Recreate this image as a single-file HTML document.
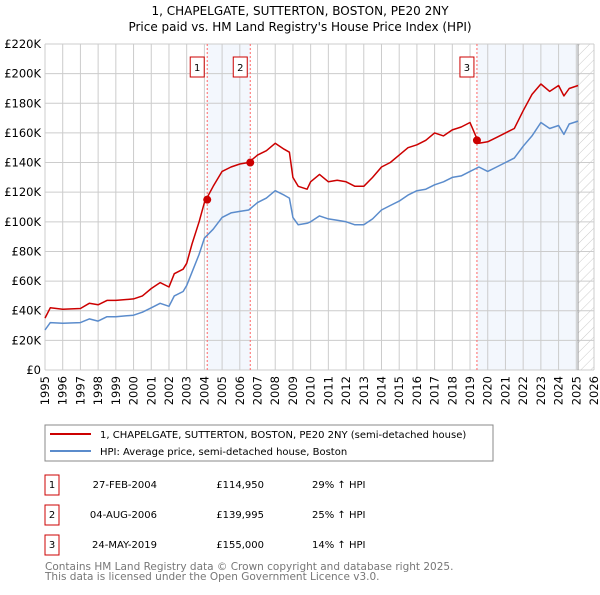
<!DOCTYPE html>
<html><head><meta charset="utf-8"><style>
body{margin:0;background:#fff;font-family:"Liberation Sans","DejaVu Sans",sans-serif;}
svg text{font-family:"DejaVu Sans","Liberation Sans",sans-serif;}
</style></head><body>
<svg id="c" width="600" height="590" viewBox="0 0 600 590" xmlns="http://www.w3.org/2000/svg">
<text x="300" y="15" text-anchor="middle" font-size="12">1, CHAPELGATE, SUTTERTON, BOSTON, PE20 2NY</text>
<text x="300" y="31" text-anchor="middle" font-size="12">Price paid vs. HM Land Registry's House Price Index (HPI)</text>
<defs><pattern id="h" width="7" height="7" patternUnits="userSpaceOnUse" patternTransform="rotate(45)"><line x1="0" y1="0" x2="0" y2="7" stroke="#ccc" stroke-width="1"/></pattern></defs>
<g id="grid"></g>
<g id="marks"></g>
<g id="legend">
<rect x="45" y="425" width="448" height="36" fill="#fff" stroke="#888"/>
<line x1="50" y1="434" x2="91" y2="434" stroke="#cc0000" stroke-width="2"/>
<text x="100" y="438" font-size="10">1, CHAPELGATE, SUTTERTON, BOSTON, PE20 2NY (semi-detached house)</text>
<line x1="50" y1="451" x2="91" y2="451" stroke="#5b8ccc" stroke-width="2"/>
<text x="100" y="455" font-size="10">HPI: Average price, semi-detached house, Boston</text>
</g>
<g id="table" font-size="10"></g>
<text x="45" y="570" font-size="10.5" fill="#777">Contains HM Land Registry data © Crown copyright and database right 2025.</text>
<text x="45" y="580" font-size="10.5" fill="#777">This data is licensed under the Open Government Licence v3.0.</text>
</svg>
<script>
const hpiYears=[1995,1995.3,1996,1997,1997.5,1998,1998.5,1999,2000,2000.5,2001,2001.5,2002,2002.3,2002.8,2003,2003.3,2003.7,2004,2004.5,2005,2005.5,2006,2006.5,2007,2007.5,2008,2008.5,2008.8,2009,2009.3,2009.8,2010,2010.5,2011,2011.5,2012,2012.5,2013,2013.5,2014,2014.5,2015,2015.5,2016,2016.5,2017,2017.5,2018,2018.5,2019,2019.5,2020,2020.5,2021,2021.5,2022,2022.5,2023,2023.5,2024,2024.3,2024.6,2025.1];
const hpiValues=[27,32,31.5,32,34.5,33,36,36,37,39,42,45,43,50,53,57,66,78,89,95,103,106,107,108,113,116,121,118,116,103,98,99,100,104,102,101,100,98,98,102,108,111,114,118,121,122,125,127,130,131,134,137,134,137,140,143,151,158,167,163,165,159,166,168];
const propValues=[35,42,41,41.5,45,44,47,47,48,50,55,59,56,65,68,72,85,100,113,124,134,137,139,140,145,148,153,149,147,130,124,122,127,132,127,128,127,124,124,130,137,140,145,150,152,155,160,158,162,164,167,153,154,157,160,163,175,186,193,188,192,185,190,192];
const saleYears=[2004.16,2006.59,2019.39];
const salePrices=[114.95,139.995,155];
const saleLabels=["1","2","3"];
const saleDates=["27-FEB-2004","04-AUG-2006","24-MAY-2019"];
const salePriceText=["£114,950","£139,995","£155,000"];
const saleHpiText=["29% ↑ HPI","25% ↑ HPI","14% ↑ HPI"];
const yTicks=[0,20,40,60,80,100,120,140,160,180,200,220];
const xTicks=[1995,1996,1997,1998,1999,2000,2001,2002,2003,2004,2005,2006,2007,2008,2009,2010,2011,2012,2013,2014,2015,2016,2017,2018,2019,2020,2021,2022,2023,2024,2025,2026];
const X0=45,X1=594,Y0=370,Y1=44;
const x=v=>X0+(v-1995)/(2026-1995)*(X1-X0);
const y=v=>Y0-v/220*(Y0-Y1);
const NS="http://www.w3.org/2000/svg";
function mk(p,t,a){const e=document.createElementNS(NS,t);for(const k in a)e.setAttribute(k,a[k]);p.appendChild(e);return e;}
const g=document.getElementById('grid'),m=document.getElementById('marks'),tb=document.getElementById('table');
let r=mk(g,'rect',{x:X0,y:Y1,width:X1-X0,height:Y0-Y1,fill:'#fff'});


r=mk(g,'rect',{x:x(saleYears[0]),y:Y1,width:x(saleYears[1])-x(saleYears[0]),height:Y0-Y1,fill:'#eef3fc',opacity:0.7});


r=mk(g,'rect',{x:x(saleYears[2]),y:Y1,width:x(2025.1)-x(saleYears[2]),height:Y0-Y1,fill:'#eef3fc',opacity:0.7});


r=mk(g,'rect',{x:x(2025.1),y:Y1,width:X1-x(2025.1),height:Y0-Y1,fill:'url(#h)'});


yTicks.forEach(v=>{const l=mk(g,'line',{x1:X0,x2:X1,y1:y(v),y2:y(v),stroke:'#ccc'});


const t=mk(g,'text',{x:X0-4,y:y(v)+4,'text-anchor':'end','font-size':'11.5'});t.textContent=v===0?'£0':'£'+v+'K';

});
xTicks.forEach(v=>{const l=mk(g,'line',{x1:x(v),x2:x(v),y1:Y1,y2:Y0,stroke:'#ccc'});


const t=mk(g,'text',{x:0,y:0,'text-anchor':'end','font-size':'11.5',transform:`translate(${x(v)+4},${Y0+6}) rotate(-90)`});t.textContent=v;

});
r=mk(g,'line',{x1:x(2025.1),x2:x(2025.1),y1:Y1,y2:Y0,stroke:'#999'});


function path(vals,col,name){const d=vals.map((v,i)=>(i?'L':'M')+x(hpiYears[i]).toFixed(1)+','+y(v).toFixed(1)).join('');
const p=mk(m,'path',{d:d,fill:'none',stroke:col,'stroke-width':1.5,'stroke-linejoin':'round'});

}
saleYears.forEach((s,i)=>{const l=mk(m,'line',{x1:x(s),x2:x(s),y1:Y1,y2:Y0,stroke:'#f66','stroke-dasharray':'2,2'});


const b=mk(m,'rect',{x:x(s)-17,y:57,width:14,height:20,fill:'#fff',stroke:'#c00'});


const t=mk(m,'text',{x:x(s)-10,y:71,'text-anchor':'middle','font-size':'10'});t.textContent=saleLabels[i];

});
path(hpiValues,'#5b8ccc','hpi-line');
path(propValues,'#cc0000','property-line');
saleYears.forEach((s,i)=>{const c=mk(m,'circle',{cx:x(s),cy:y(salePrices[i]),r:4,fill:'#cc0000'});


const yy=475+i*30;
const b=mk(tb,'rect',{x:45,y:yy,width:14,height:20,fill:'#fff',stroke:'#c00'});


const a=mk(tb,'text',{x:52,y:yy+13,'text-anchor':'middle'});a.textContent=saleLabels[i];


const d=mk(tb,'text',{x:157,y:yy+13,'text-anchor':'end'});d.textContent=saleDates[i];


const p=mk(tb,'text',{x:264,y:yy+13,'text-anchor':'end'});p.textContent=salePriceText[i];


const h=mk(tb,'text',{x:312,y:yy+13});h.textContent=saleHpiText[i];

});
</script>
</body></html>
